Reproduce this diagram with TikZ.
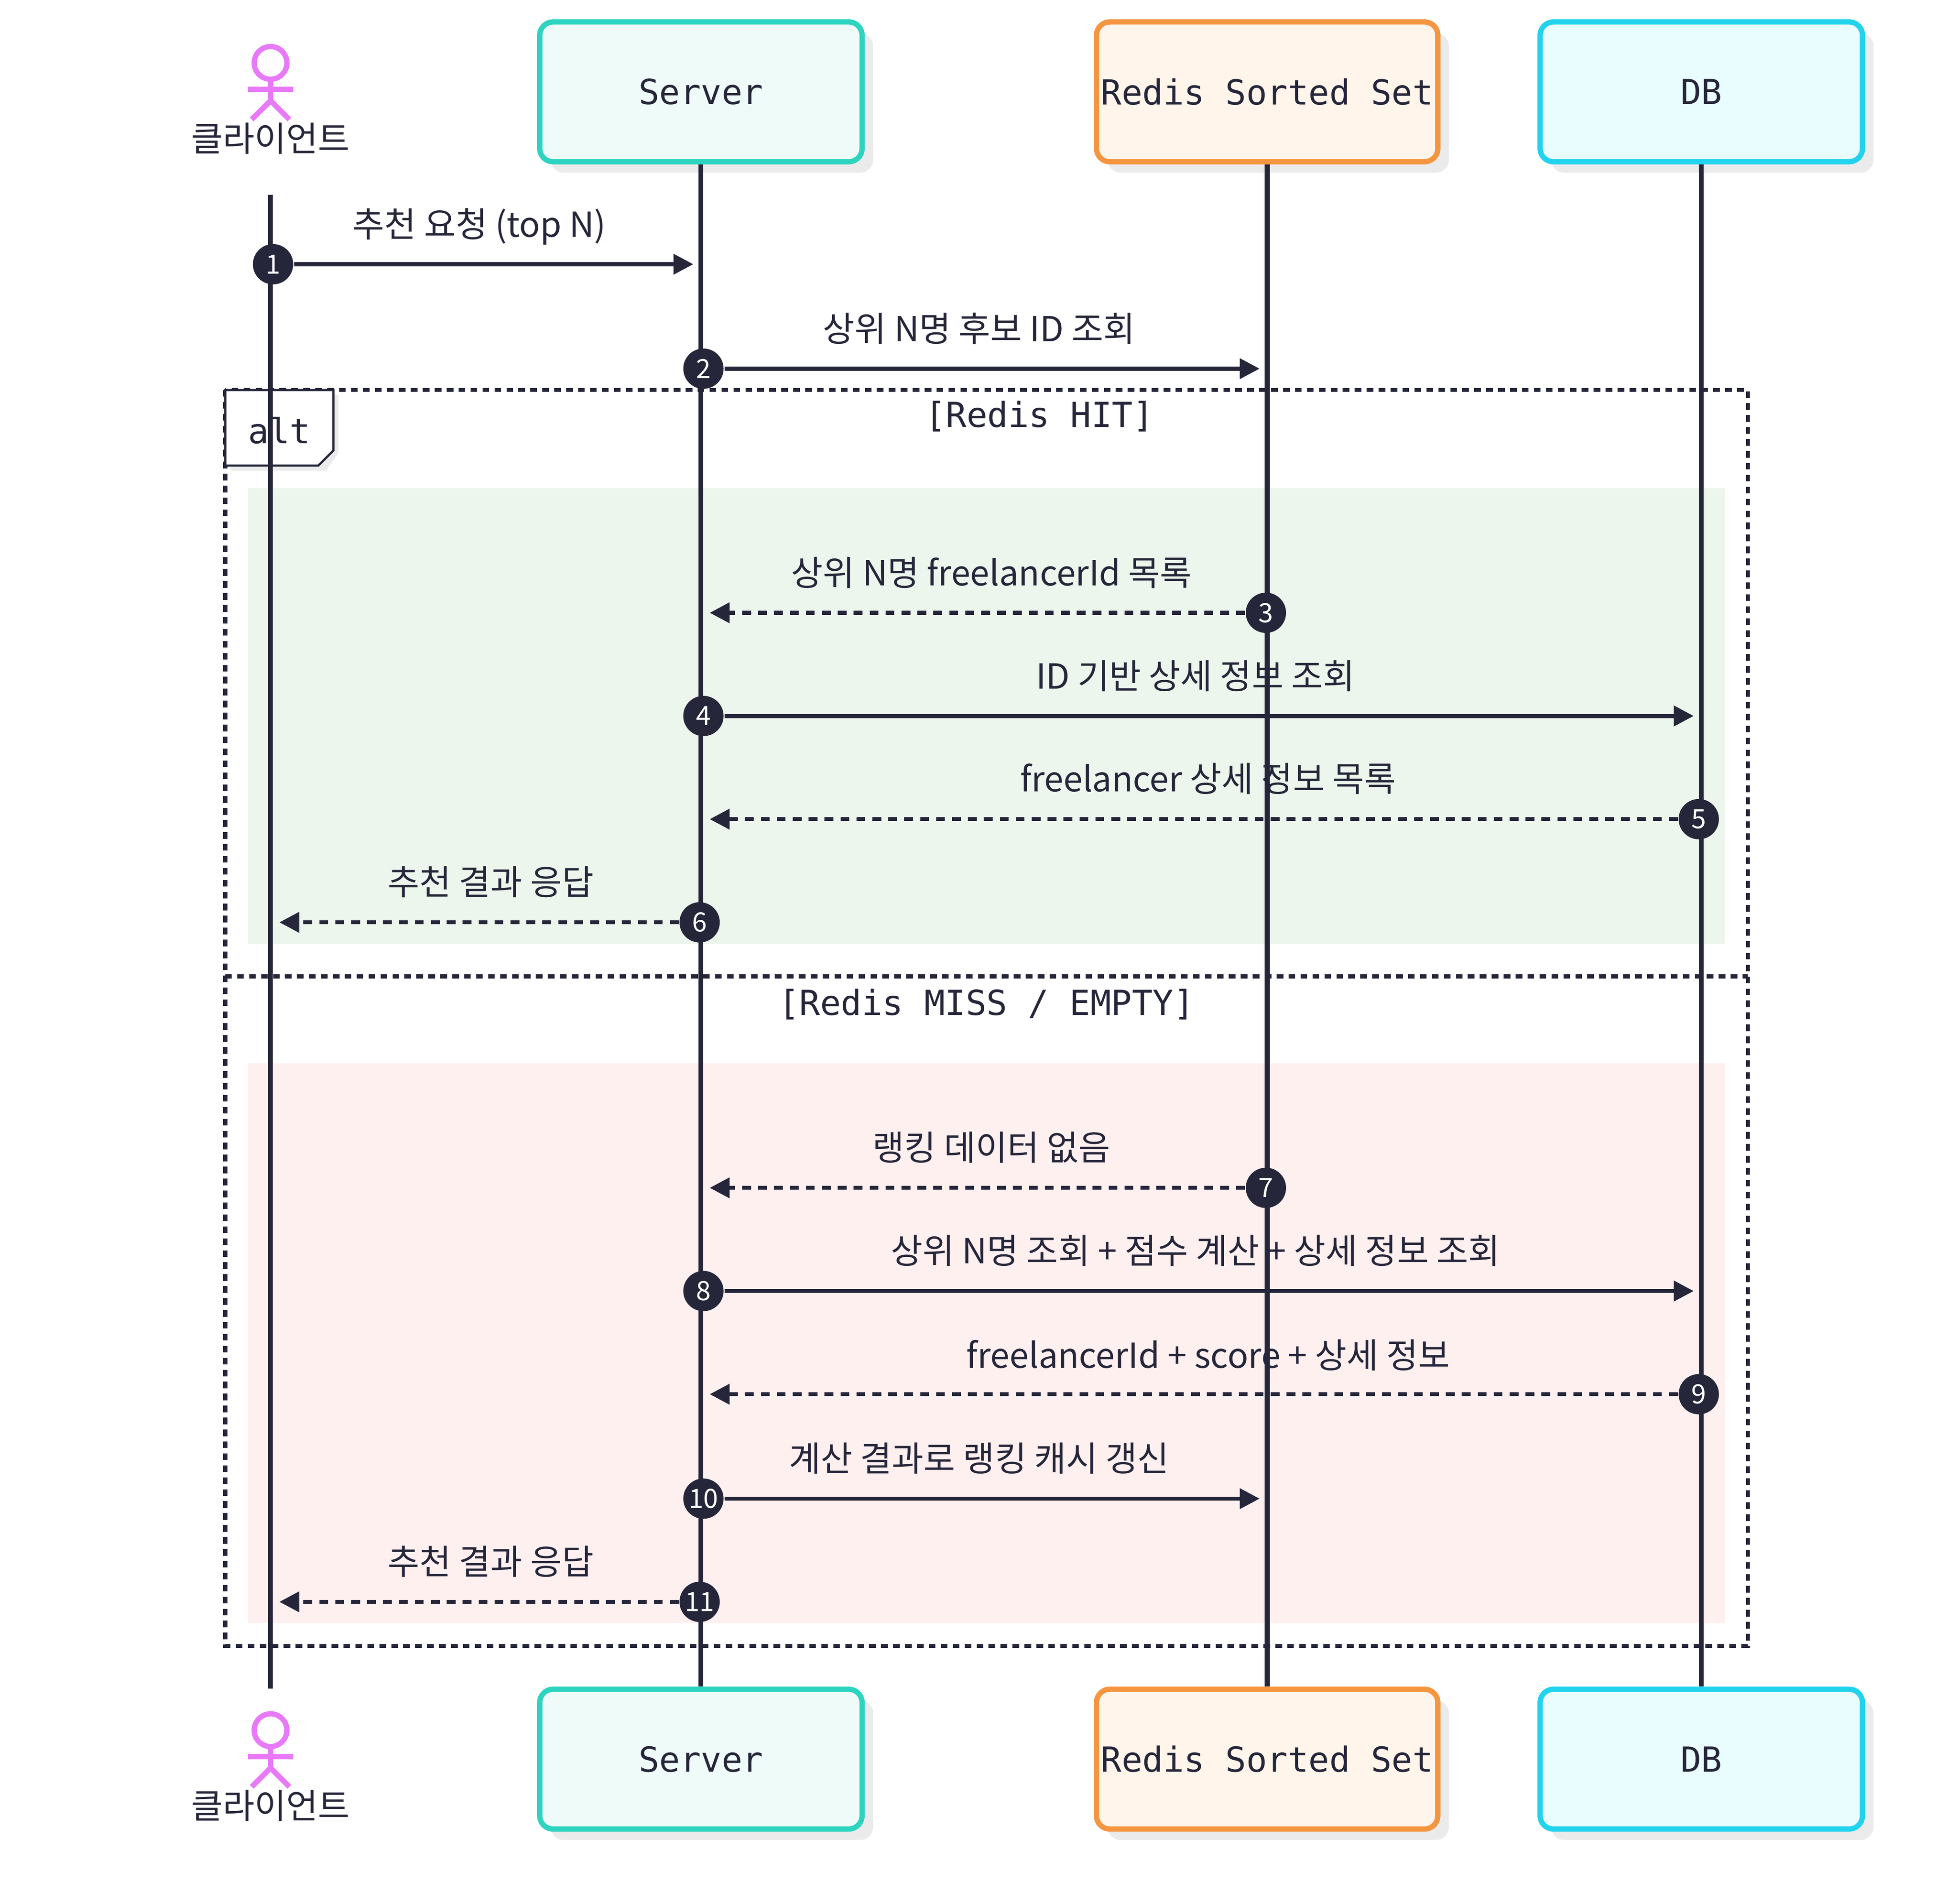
\documentclass[tikz,border=0pt]{standalone}
\usepackage{fontspec}
\setmainfont{Noto Sans CJK KR}
\newfontfamily\monofont{DejaVu Sans Mono}
\usetikzlibrary{arrows.meta, positioning, shapes.geometric, shadows}
\definecolor{ink}{HTML}{26263A}
\definecolor{tealb}{HTML}{2DD4BF}
\definecolor{tealf}{HTML}{EEFBF8}
\definecolor{orab}{HTML}{F5953F}
\definecolor{oraf}{HTML}{FFF5EB}
\definecolor{cyab}{HTML}{22D3EE}
\definecolor{cyaf}{HTML}{E9FCFE}
\definecolor{actc}{HTML}{E879F9}
\definecolor{hitf}{HTML}{EDF6EC}
\definecolor{missf}{HTML}{FFF0F0}
\begin{document}
\begin{tikzpicture}[
        x=0.01cm, y=-0.01cm, >={Triangle[length=4.5pt,width=4.5pt]},
        part/.style={draw, line width=1.2pt, rounded corners=3pt, minimum width=2.56cm,
            minimum height=1.11cm, inner xsep=1pt, font=\monofont\fontsize{7.8}{9}\selectfont,
            text=ink, drop shadow={shadow xshift=2.5pt, shadow yshift=-2.5pt, fill=black!8, opacity=1}},
        srv/.style={part, draw=tealb, fill=tealf},
        rds/.style={part, draw=orab, fill=oraf},
        db/.style={part, draw=cyab, fill=cyaf},
        num/.style={circle, fill=ink, text=white, inner sep=0pt, minimum size=0.32cm,
            font=\fontsize{6}{7}\selectfont},
        msg/.style={->, ink, line width=0.9pt},
        ret/.style={msg, dash pattern=on 2pt off 1.6pt},
        lab/.style={font=\fontsize{7.8}{9}\selectfont, text=ink},
        mlab/.style={font=\monofont\fontsize{7.8}{9}\selectfont, text=ink},
        life/.style={ink, line width=1.1pt}
    ]
    \useasboundingbox (0,0) rectangle (1556,1513);

    % 배경 영역
    \fill[hitf] (197,388) rectangle (1371,750);
    \fill[missf] (197,845) rectangle (1371,1290);
    \draw[ink, line width=0.9pt, dash pattern=on 1.5pt off 1.2pt] (179,310) rectangle (1389,1308);
    \draw[ink, line width=0.9pt, dash pattern=on 1.5pt off 1.2pt] (179,776) -- (1389,776);
    \fill[black!8] (183,314) -- (269,314) -- (269,360) -- (259,374) -- (183,374) -- cycle;
    \draw[ink, fill=white, line width=0.5pt] (179,310) -- (265,310) -- (265,358) -- (253,370) -- (179,370) -- cycle;
    \node[mlab] (alt) at (222,342) {alt};
    \node[mlab] (hit) at (826,331) {[Redis HIT]};
    \node[mlab] (miss) at (784,798) {[Redis MISS / EMPTY]};

    % 참여자
    \node[srv] (srvT) at (557,73) {Server};
    \node[rds] (rdsT) at (1007,73) {Redis Sorted Set};
    \node[db] (dbT) at (1352,73) {DB};
    \node[srv] (srvB) at (557,1398) {Server};
    \node[rds] (rdsB) at (1007,1398) {Redis Sorted Set};
    \node[db] (dbB) at (1352,1398) {DB};
    \foreach \n/\y in {T/50, B/1375}{
        \draw[actc, line width=1.2pt] (215,\y) circle[radius=0.13cm];
        \draw[actc, line width=1.2pt] (215,\y+13) -- (215,\y+30) (197,\y+21) -- (233,\y+21)
            (215,\y+30) -- (200,\y+45) (215,\y+30) -- (230,\y+45);
    }
    \node[lab] (cliT) at (215,110) {클라이언트};
    \node[lab] (cliB) at (215,1435) {클라이언트};
    \coordinate (cliTop) at (215,155);
    \coordinate (cliBot) at (215,1342);

    % 생명선
    \draw[life] (cliTop) -- (cliBot);
    \draw[life] (srvT) -- (srvB);
    \draw[life] (rdsT) -- (rdsB);
    \draw[life] (dbT) -- (dbB);

    % 메시지
    \node[lab] at (381,180) {추천 요청 (top N)};
    \node[lab] at (778,261) {상위 N명 후보 ID 조회};
    \node[lab] at (788,455) {상위 N명 freelancerId 목록};
    \node[lab] at (950,537) {ID 기반 상세 정보 조회};
    \node[lab] at (960,619) {freelancer 상세 정보 목록};
    \node[lab] at (390,701) {추천 결과 응답};
    \node[lab] at (788,912) {랭킹 데이터 없음};
    \node[lab] at (950,994) {상위 N명 조회 + 점수 계산 + 상세 정보 조회};
    \node[lab] at (960,1077) {freelancerId + score + 상세 정보};
    \node[lab] at (778,1159) {계산 결과로 랭킹 캐시 갱신};
    \node[lab] at (390,1241) {추천 결과 응답};

    \foreach \i/\xs/\xe/\y/\st in {
        1/217/551/210/msg, 2/559/1001/293/msg, 3/1006/564/487/ret,
        4/559/1346/569/msg, 5/1350/564/651/ret, 6/556/222/733/ret,
        7/1006/564/944/ret, 8/559/1346/1026/msg, 9/1350/564/1108/ret,
        10/559/1001/1191/msg, 11/556/222/1273/ret}{
        \node[num] (n\i) at (\xs,\y) {\i};
        \coordinate (e\i) at (\xe,\y);
        \draw[\st] (n\i) -- (e\i);
    }
\end{tikzpicture}
\end{document}
